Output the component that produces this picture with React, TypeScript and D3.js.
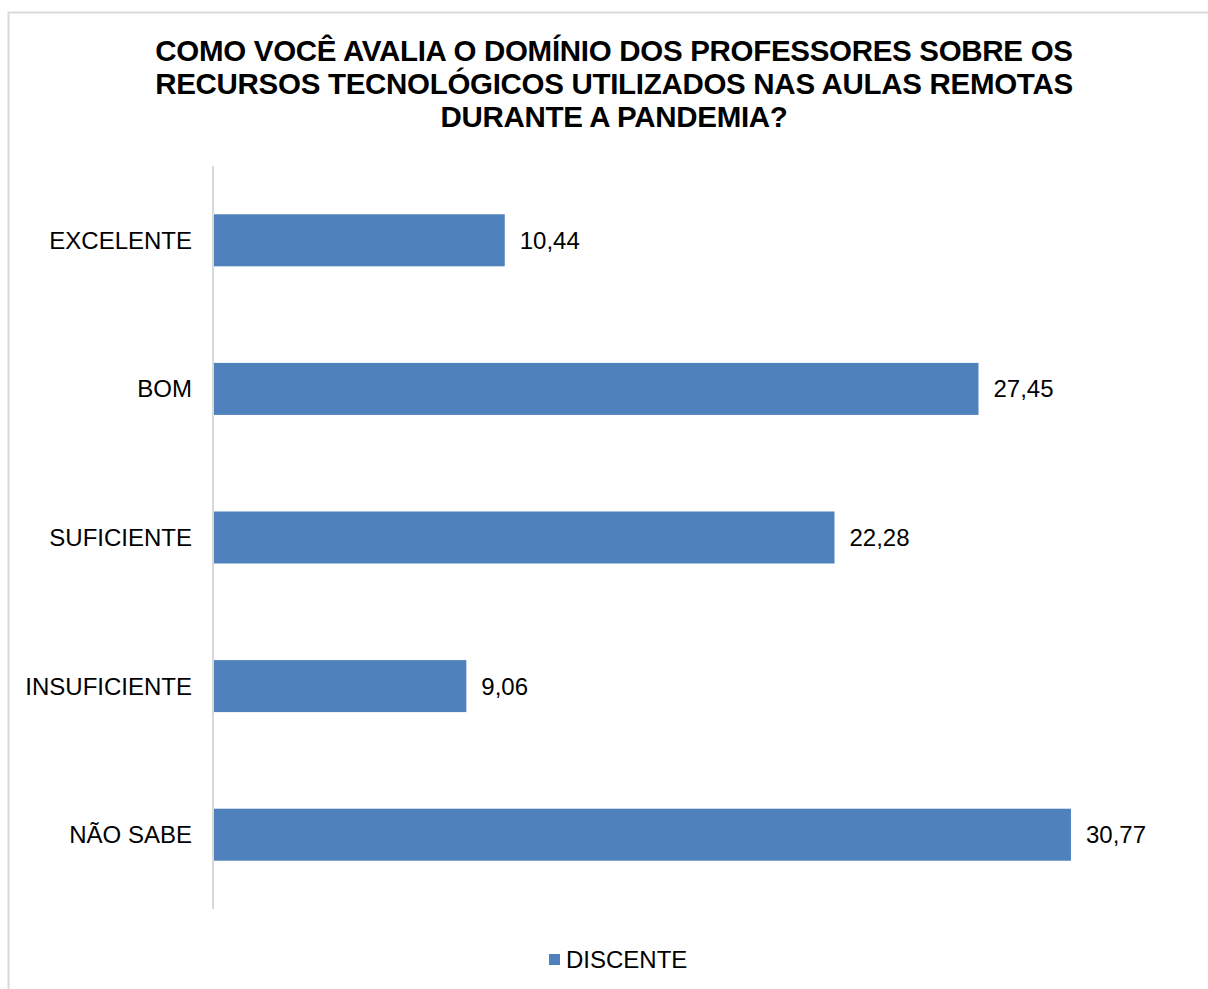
import React from "react";
import * as d3 from "d3";

const categories = ["EXCELENTE", "BOM", "SUFICIENTE", "INSUFICIENTE", "NÃO SABE"];
const values = [10.44, 27.45, 22.28, 9.06, 30.77];
const valueLabels = ["10,44", "27,45", "22,28", "9,06", "30,77"];
const titleLines = [
  "COMO VOCÊ AVALIA O DOMÍNIO DOS PROFESSORES SOBRE OS",
  "RECURSOS TECNOLÓGICOS UTILIZADOS NAS AULAS REMOTAS",
  "DURANTE A PANDEMIA?",
];
const seriesName = "DISCENTE";

const W = 1208;
const H = 989;
const FONT = "'Liberation Sans', Arial, sans-serif";
const BAR = "#4f81bd";

export default function App() {
  const x = d3.scaleLinear().domain([0, 35]).range([214, 214 + 35 * 27.85]);
  const y = d3
    .scaleBand<string>()
    .domain(categories)
    .range([166, 909])
    .paddingInner(0.65)
    .paddingOuter(0.325);

  return (
    <svg
      width={W}
      height={H}
      style={{ position: "absolute", left: 0, top: 0, background: "#fff" }}
      fontFamily={FONT}
    >
      <rect x={8.5} y={12.5} width={1230} height={1000} fill="#fff" stroke="#d9d9d9" strokeWidth={2} />
      <g>
        {titleLines.map((t, i) => (
          <text
            key={i}
            x={614}
            y={61 + i * 33}
            textAnchor="middle"
            fontWeight="bold"
            fontSize={29.5}
            fill="#000"
            letterSpacing={-0.3}
          >
            {t}
          </text>
        ))}
      </g>
      <line x1={213} x2={213} y1={166} y2={909} stroke="#d9d9d9" strokeWidth={2} />
      {categories.map((c, i) => {
        const yc = (y(c) as number) + y.bandwidth() / 2;
        return (
          <g key={c}>
            <rect
              x={x(0)}
              y={y(c)}
              width={x(values[i]) - x(0)}
              height={y.bandwidth()}
              fill={BAR}
            />
            <text x={192} y={yc} dy="0.35em" textAnchor="end" fontSize={24} fill="#000">
              {c}
            </text>
            <text x={x(values[i]) + 15} y={yc} dy="0.35em" fontSize={24} fill="#000">
              {valueLabels[i]}
            </text>
          </g>
        );
      })}
      <g>
        <rect x={549} y={954} width={11} height={11} fill={BAR} />
        <text x={566} y={960} dy="0.35em" fontSize={24} fill="#000">
          {seriesName}
        </text>
      </g>
    </svg>
  );
}
